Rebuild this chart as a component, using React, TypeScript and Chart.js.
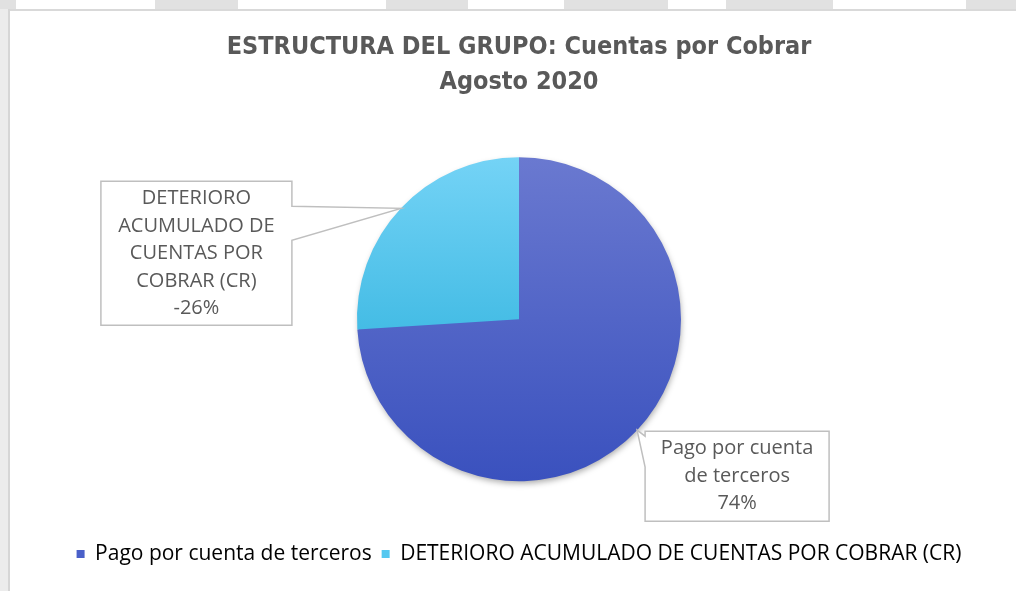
import { useEffect, useRef } from "react";
import { Chart, registerables } from "chart.js";

Chart.register(...registerables);

const categories = [
  "Pago por cuenta de terceros",
  "DETERIORO ACUMULADO DE CUENTAS POR COBRAR (CR)",
];
const percentValues = [74, -26];
const titleLines = ["ESTRUCTURA DEL GRUPO: Cuentas por Cobrar", "Agosto 2020"];

const sliceTopColors = ["#6a79d0", "#74d3f6"];
const sliceBottomColors = ["#3a51be", "#1aa8d6"];
const legendColors = ["#4a60c9", "#55c8f0"];

const TEXT_COLOR = "#595959";
const LABEL_FONT = "'Open Sans', Lato, sans-serif";
const TITLE_FONT = "'DejaVu Sans Condensed', 'DejaVu Sans', sans-serif";

// callout box layout relative to the slice's mid-angle tip point
const calloutLayouts = [
  { dx: 8, dy: 1, w: 184, h: 90, side: "left", a: 5, b: 36, wrap: 172 },
  { dx: -300, dy: -27, w: 191, h: 144, side: "right", a: 25, b: 59, wrap: 180 },
];

function wrapText(ctx: CanvasRenderingContext2D, text: string, maxW: number) {
  const words = text.split(" ");
  const lines: string[] = [];
  let cur = "";
  for (const w of words) {
    const t = cur ? cur + " " + w : w;
    if (ctx.measureText(t).width > maxW && cur) {
      lines.push(cur);
      cur = w;
    } else cur = t;
  }
  if (cur) lines.push(cur);
  return lines;
}

const shadowPlugin = {
  id: "pieShadow",
  beforeDatasetsDraw(chart: any) {
    const meta = chart.getDatasetMeta(0);
    const arc = meta.data[0];
    if (!arc) return;
    const { x, y, outerRadius } = arc.getProps(["x", "y", "outerRadius"], true);
    const c = chart.ctx as CanvasRenderingContext2D;
    c.save();
    c.shadowColor = "rgba(0,0,0,0.35)";
    c.shadowBlur = 6;
    c.shadowOffsetX = 1;
    c.shadowOffsetY = 3;
    c.fillStyle = "#4a60c9";
    c.beginPath();
    c.arc(x, y, outerRadius - 1, 0, Math.PI * 2);
    c.fill();
    c.restore();
  },
};

const calloutPlugin = {
  id: "callouts",
  afterDatasetsDraw(chart: any) {
    const ctx = chart.ctx as CanvasRenderingContext2D;
    const meta = chart.getDatasetMeta(0);
    meta.data.forEach((arc: any, i: number) => {
      const { x, y, startAngle, endAngle, outerRadius } = arc.getProps(
        ["x", "y", "startAngle", "endAngle", "outerRadius"],
        true
      );
      const mid = (startAngle + endAngle) / 2;
      const tipX = x + Math.cos(mid) * outerRadius;
      const tipY = y + Math.sin(mid) * outerRadius;
      const L = calloutLayouts[i];
      const bx = tipX + L.dx;
      const by = tipY + L.dy;
      ctx.save();
      ctx.beginPath();
      if (L.side === "right") {
        ctx.moveTo(bx, by);
        ctx.lineTo(bx + L.w, by);
        ctx.lineTo(bx + L.w, by + L.a);
        ctx.lineTo(tipX, tipY);
        ctx.lineTo(bx + L.w, by + L.b);
        ctx.lineTo(bx + L.w, by + L.h);
        ctx.lineTo(bx, by + L.h);
      } else {
        ctx.moveTo(bx, by);
        ctx.lineTo(bx + L.w, by);
        ctx.lineTo(bx + L.w, by + L.h);
        ctx.lineTo(bx, by + L.h);
        ctx.lineTo(bx, by + L.b);
        ctx.lineTo(tipX, tipY);
        ctx.lineTo(bx, by + L.a);
      }
      ctx.closePath();
      ctx.fillStyle = "#ffffff";
      ctx.fill();
      ctx.strokeStyle = "#bfbfbf";
      ctx.lineWidth = 1.5;
      ctx.stroke();

      ctx.font = `20px ${LABEL_FONT}`;
      ctx.fillStyle = TEXT_COLOR;
      ctx.textAlign = "center";
      ctx.textBaseline = "middle";
      const lines = wrapText(ctx, categories[i], L.wrap);
      lines.push(`${percentValues[i]}%`);
      const spacing = 27.5;
      const cy = by + L.h / 2;
      const start = cy - ((lines.length - 1) * spacing) / 2;
      lines.forEach((ln, k) => ctx.fillText(ln, bx + L.w / 2, start + k * spacing));
      ctx.restore();
    });
  },
};

function makeGradient(chart: any, i: number) {
  const area = chart.chartArea;
  if (!area) return legendColors[i];
  const meta = chart.getDatasetMeta(0);
  const arc = meta.data[0];
  let top = area.top;
  let bottom = area.bottom;
  if (arc && arc.outerRadius) {
    top = arc.y - arc.outerRadius;
    bottom = arc.y + arc.outerRadius;
  } else {
    const cy = (area.top + area.bottom) / 2;
    top = cy - 162;
    bottom = cy + 162;
  }
  const g = chart.ctx.createLinearGradient(0, top, 0, bottom);
  g.addColorStop(0, sliceTopColors[i]);
  g.addColorStop(1, sliceBottomColors[i]);
  return g;
}

export default function App() {
  const ref = useRef<HTMLCanvasElement | null>(null);

  useEffect(() => {
    if (!ref.current) return;
    const chart = new Chart(ref.current, {
      type: "pie",
      data: {
        labels: categories,
        datasets: [
          {
            data: percentValues.map((v) => Math.abs(v)),
            backgroundColor: (c: any) => makeGradient(c.chart, c.dataIndex),
            borderWidth: 0,
            radius: 162,
          } as any,
        ],
      },
      options: {
        responsive: false,
        animation: false,
        devicePixelRatio: 1,
        layout: { padding: { top: 10, left: 22, right: 0, bottom: 16.5 } },
        plugins: {
          tooltip: { enabled: false },
          title: {
            display: true,
            text: titleLines,
            color: TEXT_COLOR,
            font: { family: TITLE_FONT, size: 25, weight: "bold", lineHeight: 1.4 },
            padding: { top: 20, bottom: 5 },
          },
          legend: {
            display: true,
            position: "bottom",
            labels: {
              color: TEXT_COLOR,
              font: { family: LABEL_FONT, size: 21 },
              boxWidth: 8,
              boxHeight: 8,
              padding: 10,
              generateLabels: () =>
                categories.map((t, i) => ({
                  text: t,
                  fillStyle: legendColors[i],
                  strokeStyle: legendColors[i],
                  lineWidth: 0,
                  hidden: false,
                  index: i,
                })),
            },
          },
        },
      },
      plugins: [shadowPlugin, calloutPlugin],
    });
    return () => chart.destroy();
  }, []);

  const gray = "#e1e1e1";
  const strips = [
    [0, 16],
    [155, 238],
    [386, 468],
    [564, 668],
    [726, 833],
    [966, 1016],
  ];

  return (
    <div
      style={{
        position: "absolute",
        left: 0,
        top: 0,
        width: 1016,
        height: 591,
        background: "#ffffff",
        overflow: "hidden",
      }}
    >
      {strips.map(([a, b], k) => (
        <div
          key={k}
          style={{ position: "absolute", left: a, top: 0, width: b - a, height: 9, background: gray }}
        />
      ))}
      <div style={{ position: "absolute", left: 8, top: 9, width: 1008, height: 2, background: "#d9d9d9" }} />
      <div style={{ position: "absolute", left: 0, top: 9, width: 8, height: 582, background: "#ececec" }} />
      <div style={{ position: "absolute", left: 8, top: 9, width: 2, height: 582, background: "#d6d6d6" }} />
      <canvas
        ref={ref}
        width={1016}
        height={591}
        style={{ position: "absolute", left: 0, top: 0, width: 1016, height: 591 }}
      />
    </div>
  );
}
